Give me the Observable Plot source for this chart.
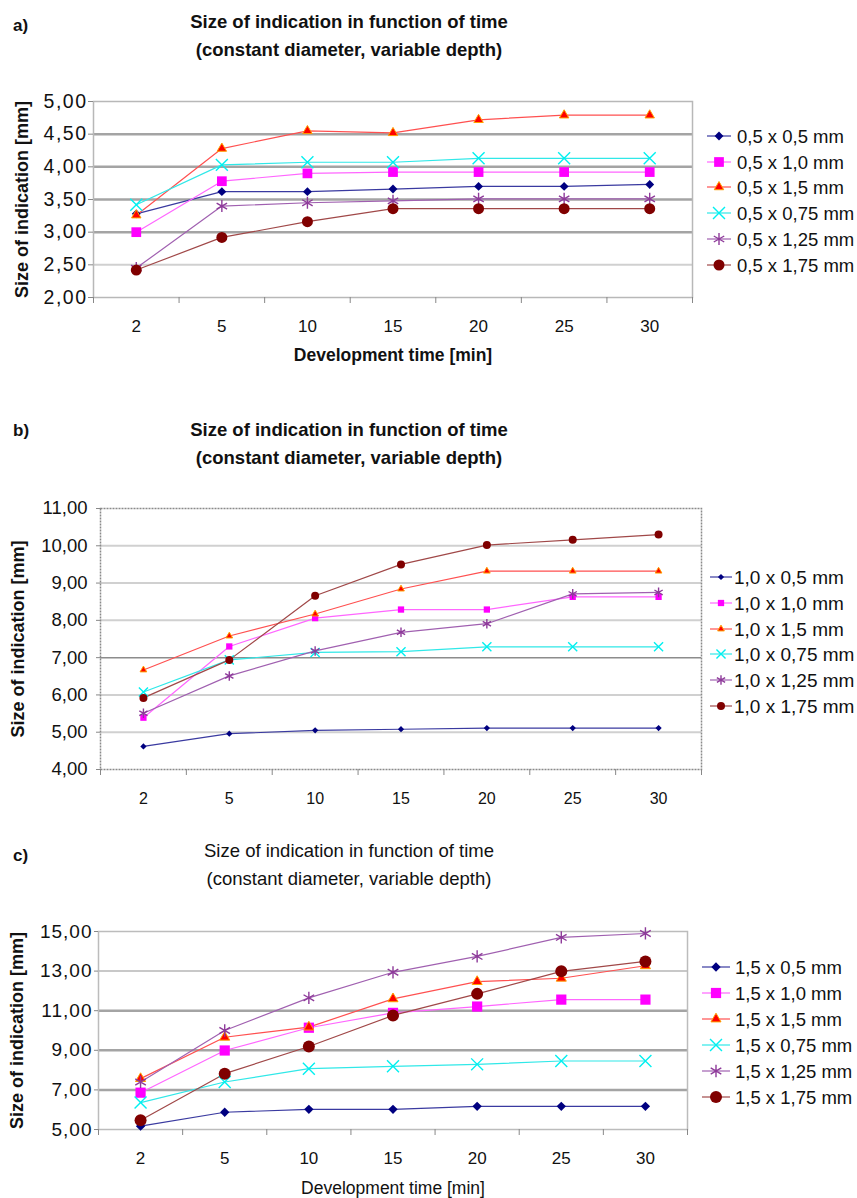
<!DOCTYPE html>
<html>
<head>
<meta charset="utf-8">
<script src="https://cdn.jsdelivr.net/npm/d3@7"></script>
<script src="https://cdn.jsdelivr.net/npm/@observablehq/plot@0.6"></script>
<style>
  body { margin: 0; background: #fff; }
  #page { position: relative; width: 857px; height: 1198px; overflow: hidden; font-family: "Liberation Sans", Arial, sans-serif; color: #111; }
  .ttl { position: absolute; left: 0; width: 698px; text-align: center; font-size: 18.5px; line-height: 27.5px; }
  .lbl { position: absolute; left: 13px; font-size: 17px; font-weight: bold; }
  .panel { position: absolute; left: 0; width: 857px; overflow: hidden; }
  .leg { position: absolute; left: 0; top: 0; }
  .pa g[aria-label="y-axis tick label"] text { letter-spacing: 1.5px; }
  .pc g[aria-label="y-axis tick label"] text { letter-spacing: 1px; }
</style>
</head>
<body>
<div id="page">
  <div class="lbl" style="top:16px;">a)</div>
  <div class="ttl" style="top:8px;font-weight:bold;">Size of indication in function of time<br>(constant diameter, variable depth)</div>
  <div class="lbl" style="top:421px;">b)</div>
  <div class="ttl" style="top:416px;font-weight:bold;">Size of indication in function of time<br>(constant diameter, variable depth)</div>
  <div class="lbl" style="top:846px;">c)</div>
  <div class="ttl" style="top:837px;">Size of indication in function of time<br>(constant diameter, variable depth)</div>
</div>
<script>
// ---------- data ----------
const categories = ["2", "5", "10", "15", "20", "25", "30"];

const labelsA = ["0,5 x 0,5 mm", "0,5 x 1,0 mm", "0,5 x 1,5 mm", "0,5 x 0,75 mm", "0,5 x 1,25 mm", "0,5 x 1,75 mm"];
const a_05x05  = [3.28, 3.62, 3.62, 3.66, 3.70, 3.70, 3.73];
const a_05x10  = [3.00, 3.78, 3.90, 3.92, 3.92, 3.92, 3.92];
const a_05x15  = [3.26, 4.28, 4.55, 4.52, 4.72, 4.79, 4.79];
const a_05x075 = [3.42, 4.03, 4.07, 4.07, 4.13, 4.13, 4.13];
const a_05x125 = [2.45, 3.40, 3.45, 3.48, 3.51, 3.51, 3.51];
const a_05x175 = [2.42, 2.92, 3.16, 3.36, 3.36, 3.36, 3.36];

const labelsB = ["1,0 x 0,5 mm", "1,0 x 1,0 mm", "1,0 x 1,5 mm", "1,0 x 0,75 mm", "1,0 x 1,25 mm", "1,0 x 1,75 mm"];
const b_10x05  = [4.62, 4.96, 5.05, 5.08, 5.11, 5.11, 5.11];
const b_10x10  = [5.39, 7.30, 8.06, 8.29, 8.29, 8.63, 8.63];
const b_10x15  = [6.67, 7.58, 8.17, 8.84, 9.32, 9.32, 9.32];
const b_10x075 = [6.08, 6.94, 7.14, 7.16, 7.29, 7.29, 7.29];
const b_10x125 = [5.51, 6.51, 7.18, 7.68, 7.91, 8.71, 8.75];
const b_10x175 = [5.92, 6.94, 8.66, 9.50, 10.02, 10.16, 10.30];

const labelsC = ["1,5 x 0,5 mm", "1,5 x 1,0 mm", "1,5 x 1,5 mm", "1,5 x 0,75 mm", "1,5 x 1,25 mm", "1,5 x 1,75 mm"];
const c_15x05  = [5.17, 5.87, 6.02, 6.02, 6.17, 6.17, 6.17];
const c_15x10  = [6.86, 8.99, 10.14, 10.89, 11.21, 11.56, 11.56];
const c_15x15  = [7.57, 9.66, 10.17, 11.60, 12.47, 12.64, 13.27];
const c_15x075 = [6.36, 7.40, 8.07, 8.19, 8.29, 8.46, 8.46];
const c_15x125 = [7.40, 10.00, 11.65, 12.94, 13.74, 14.70, 14.90];
const c_15x175 = [5.47, 7.82, 9.19, 10.76, 11.85, 12.99, 13.49];

const yTicksA = [2, 2.5, 3, 3.5, 4, 4.5, 5];
const yTicksB = [4, 5, 6, 7, 8, 9, 10, 11];
const yTicksC = [5, 7, 9, 11, 13, 15];

// ---------- styles ----------
const symbols   = ["diamond2", "square2", "triangle2", "times", "asterisk", "circle"];
const d3symbols = [d3.symbolDiamond2, d3.symbolSquare2, d3.symbolTriangle2, d3.symbolTimes, d3.symbolAsterisk, d3.symbolCircle];
const markFill  = ["#000080", "#ff00ff", "#ff0000", "none", "none", "#800000"];
const markStroke= ["none", "none", "#ffa000", "#00f0f0", "#8e3a9a", "none"];
const lineColor = ["#3a3aa0", "#ff66ff", "#ff5050", "#30e8e8", "#a060b0", "#a04848"];
const fmt = d => d.toFixed(2).replace(".", ",");

function makePanel(cfg) {
  const n = categories.length;
  const rows = [];
  cfg.values.forEach((vals, s) => vals.forEach((v, i) => rows.push({s, i, v})));
  const marks = [];
  cfg.grids.forEach(g => marks.push(Plot.gridY(g.ticks, {stroke: g.stroke, strokeOpacity: 1, strokeWidth: g.width})));
  marks.push(Plot.frame({stroke: cfg.frameStroke, strokeWidth: cfg.frameWidth, strokeDasharray: cfg.frameDash}));
  marks.push(Plot.axisY(cfg.yTicks, {tickFormat: fmt, tickSize: cfg.yTickSize, tickPadding: cfg.yTickPad, fontSize: cfg.yFont, stroke: "#888", label: null}));
  marks.push(Plot.axisX(d3.range(n), {tickFormat: i => categories[i], tickSize: 0, tickPadding: cfg.xTickPad, fontSize: cfg.xFont, label: null}));
  marks.push(Plot.axisX(d3.range(n + 1).map(i => i - 0.5), {tickFormat: () => "", tickSize: 6, stroke: "#888", label: null}));
  for (let s = 0; s < cfg.values.length; s++) {
    marks.push(Plot.line(rows.filter(r => r.s === s), {x: "i", y: "v", stroke: lineColor[s], strokeWidth: 1.2}));
  }
  for (let s = 0; s < cfg.values.length; s++) {
    marks.push(Plot.dot(rows.filter(r => r.s === s), {
      x: "i", y: "v", symbol: symbols[s], r: cfg.r[s],
      fill: markFill[s], stroke: markStroke[s], strokeWidth: (s === 3 || s === 4) ? 1.4 : 1
    }));
  }
  marks.push(Plot.text(["Size of indication [mm]"], {text: d => d, frameAnchor: "left", dx: cfg.yTitleDx, rotate: -90,
    fontSize: 18, fontWeight: "bold", textAnchor: "middle", lineAnchor: "middle"}));
  if (cfg.xTitle) {
    marks.push(Plot.text([cfg.xTitle], {text: d => d, frameAnchor: "bottom", dy: cfg.xTitleDy, fontSize: 17.5,
      fontWeight: cfg.xTitleWeight, textAnchor: "middle", lineAnchor: "middle"}));
  }
  const chart = Plot.plot({
    width: 857, height: cfg.height,
    marginTop: cfg.mt, marginBottom: cfg.mb, marginLeft: cfg.ml, marginRight: cfg.mr,
    className: cfg.cls,
    style: {fontFamily: "Liberation Sans, Arial, sans-serif", fontSize: "17px", background: "transparent", color: "#111", overflow: "visible"},
    x: {domain: [-0.5, n - 0.5], label: null},
    y: {domain: cfg.yDomain, label: null},
    marks
  });
  const wrap = document.createElement("div");
  wrap.className = "panel";
  wrap.style.top = cfg.top + "px";
  wrap.style.height = cfg.height + "px";
  wrap.appendChild(chart);
  document.getElementById("page").appendChild(wrap);

  // legend
  const leg = d3.select("#page").append("svg").attr("class", "leg")
    .attr("width", 857).attr("height", 1198).style("position", "absolute").style("left", "0px").style("top", "0px");
  cfg.labels.forEach((lab, s) => {
    const y = cfg.legY[s];
    leg.append("line").attr("x1", cfg.legX - cfg.legHalf).attr("x2", cfg.legX + cfg.legHalf)
      .attr("y1", y).attr("y2", y).attr("stroke", lineColor[s]).attr("stroke-width", 1.2);
    leg.append("path").attr("transform", `translate(${cfg.legX},${y})`)
      .attr("d", d3.symbol(d3symbols[s], cfg.r[s] * cfg.r[s] * Math.PI)())
      .attr("fill", markFill[s]).attr("stroke", markStroke[s]).attr("stroke-width", (s === 3 || s === 4) ? 1.4 : 1);
    leg.append("text").attr("x", cfg.legTextX).attr("y", y).attr("dy", "0.36em")
      .attr("font-family", "Liberation Sans, Arial, sans-serif").attr("font-size", cfg.legFont).attr("fill", "#111")
      .text(lab);
  });
}

makePanel({
  cls: "pa", top: 80, height: 290, mt: 21, mb: 73, ml: 93, mr: 165,
  values: [a_05x05, a_05x10, a_05x15, a_05x075, a_05x125, a_05x175], labels: labelsA,
  yDomain: [2, 5], yTicks: yTicksA,
  grids: [{ticks: [3, 3.5, 4, 4.5], stroke: "#a4a4a4", width: 2.5}, {ticks: [2.5], stroke: "#d0d0d0", width: 2}],
  frameStroke: "#b8b8b8", frameWidth: 1.5, frameDash: null,
  yTickSize: 5, yTickPad: 1, yFont: 19.5, xTickPad: 22, xFont: 17,
  r: [4, 6.2, 4.5, 5.5, 5.7, 5.5],
  yTitleDx: -71, xTitle: "Development time [min]", xTitleDy: 58, xTitleWeight: "bold",
  legX: 719, legHalf: 12, legTextX: 737, legFont: 18.5, legY: [136, 162, 187, 213, 239, 265]
});

makePanel({
  cls: "pb", top: 495, height: 318, mt: 13, mb: 44, ml: 100, mr: 156,
  values: [b_10x05, b_10x10, b_10x15, b_10x075, b_10x125, b_10x175], labels: labelsB,
  yDomain: [4, 11], yTicks: yTicksB,
  grids: [{ticks: [5, 6, 8, 9, 10], stroke: "#d0d0d0", width: 2}, {ticks: [7], stroke: "#8c8c8c", width: 1.5}],
  frameStroke: "#8a8a8a", frameWidth: 1.5, frameDash: "2,1",
  yTickSize: 4, yTickPad: 9, yFont: 18.5, xTickPad: 23, xFont: 16,
  r: [2.8, 4, 3.2, 4.2, 4.5, 4],
  yTitleDx: -82, xTitle: null,
  legX: 721, legHalf: 11, legTextX: 734, legFont: 19, legY: [577, 603, 629, 654, 680, 706]
});

makePanel({
  cls: "pc", top: 910, height: 288, mt: 21, mb: 69, ml: 98, mr: 170,
  values: [c_15x05, c_15x10, c_15x15, c_15x075, c_15x125, c_15x175], labels: labelsC,
  yDomain: [5, 15], yTicks: yTicksC,
  grids: [{ticks: [7, 9, 11], stroke: "#a4a4a4", width: 2.5}, {ticks: [13], stroke: "#c8c8c8", width: 2}],
  frameStroke: "#bcbcbc", frameWidth: 1.5, frameDash: null,
  yTickSize: 4, yTickPad: 2, yFont: 19, xTickPad: 22, xFont: 17,
  r: [4.2, 6.5, 4.8, 5.5, 5.8, 6],
  yTitleDx: -81, xTitle: "Development time [min]", xTitleDy: 59, xTitleWeight: "normal",
  legX: 716, legHalf: 14, legTextX: 735, legFont: 18.5, legY: [967, 993, 1019, 1045, 1071, 1097]
});
</script>
</body>
</html>
